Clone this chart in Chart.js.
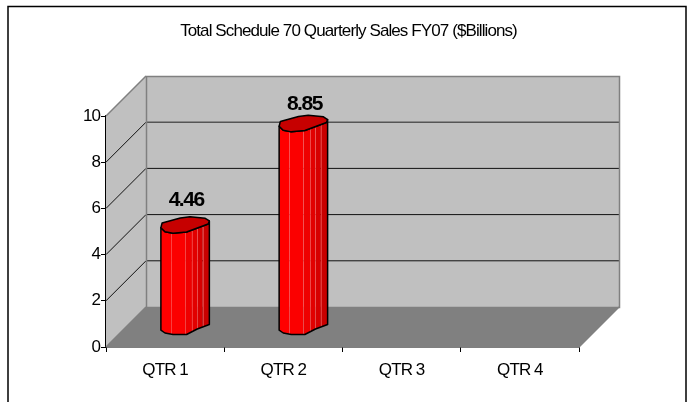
<!DOCTYPE html>
<html><head><meta charset="utf-8">
<style>html,body{margin:0;padding:0;background:#fff}canvas{display:block}</style>
<script src="https://cdn.jsdelivr.net/npm/chart.js@4/dist/chart.umd.js"></script>
</head><body>
<div style="width:689px;height:402px"><canvas id="c"></canvas></div>
<script>
const categories = ['QTR 1','QTR 2','QTR 3','QTR 4'];
const salesValues = [4.46, 8.85, null, null];
const yTicks = [0,2,4,6,8,10];
const chartTitle = 'Total Schedule 70 Quarterly Sales FY07 ($Billions)';
const labelLift = [24, 18];
const DEPTH = 40, FONT = "'Liberation Sans',Arial,sans-serif";

const frame = {id:'frame',
  afterLayout(ch){ ch.titleBlock.left=0; ch.titleBlock.right=697; },
  beforeDraw(ch){
    const c=ch.ctx; c.letterSpacing='-0.9px';
    c.save(); c.strokeStyle='#000'; c.lineWidth=1.5;
    c.beginPath(); c.moveTo(8,402); c.lineTo(8,6.5); c.lineTo(686,6.5); c.lineTo(686,402); c.stroke(); c.restore();
  }};

const walls = {id:'walls', beforeDatasetsDraw(ch){
  const c=ch.ctx, {x:xs,y:ys}=ch.scales, L=xs.left, R=xs.right, B=ys.bottom, T=ys.top, d=DEPTH;
  c.save();
  c.fillStyle='#c0c0c0';
  c.fillRect(L+d,T-d,R-L,B-T);
  c.beginPath(); c.moveTo(L,B); c.lineTo(L,T); c.lineTo(L+d,T-d); c.lineTo(L+d,B-d); c.closePath(); c.fill();
  c.fillStyle='#808080';
  c.beginPath(); c.moveTo(L,B); c.lineTo(L+d,B-d); c.lineTo(R+d,B-d); c.lineTo(R,B); c.closePath(); c.fill();
  yTicks.slice(1,-1).forEach(v=>{
    const y=ys.getPixelForValue(v);
    c.strokeStyle='#111'; c.lineWidth=1;
    c.beginPath(); c.moveTo(L,y); c.lineTo(L+d,y-d); c.stroke();
    c.strokeStyle=v===8?'#555':'#111'; c.lineWidth=v===8?1.5:1;
    c.beginPath(); c.moveTo(L+d,y-d); c.lineTo(R+d,y-d); c.stroke();
  });
  c.strokeStyle='#808080'; c.lineWidth=1.5;
  c.strokeRect(L+d+.5,T-d+.5,R-L,B-T);
  c.beginPath(); c.moveTo(L,T); c.lineTo(L+d,T-d); c.moveTo(L,B); c.lineTo(L+d,B-d); c.moveTo(R,B); c.lineTo(R+d,B-d); c.stroke();
  c.restore();
}};

const TOP=[[-1,3.7],[-.95,-1],[-.2,-6],[.2,-7.3],[.83,-5.7],[1,-3],[.95,0],[.06,8],[-.5,9.3],[-.83,7.7]];
const BOT=[[1,-2],[.5,2.5],[.06,8],[-.5,8],[-.83,6.5],[-1,3.7]];
const STRIPS=[['#ff0000',-1,-.58],['#fb0000',-.58,0],['#ee0000',0,.28],['#e20000',.28,.5],['#d60000',.5,.72],['#c80000',.72,1]];
const SEPS=[-.58,0,.28,.5,.72];

const bars3d = {id:'bars3d',
  afterDatasetDraw(ch,args){
    const c=ch.ctx, d=DEPTH/2;
    args.meta.data.forEach((el,i)=>{
      const v=salesValues[i]; if(v==null) return;
      const p=el.getProps(['x','y','base','width'],true), cx=p.x+d, yT=p.y-d, yB=p.base-d, hw=p.width/2;
      const path=()=>{ c.beginPath();
        c.moveTo(cx-hw,yT+TOP[0][1]);
        c.lineTo(cx-hw,yB+BOT[5][1]);
        BOT.slice().reverse().forEach(q=>c.lineTo(cx+q[0]*hw,yB+q[1]));
        c.lineTo(cx+hw,yT+TOP[5][1]);
        TOP.slice(5).forEach(q=>c.lineTo(cx+q[0]*hw,yT+q[1]));
        c.closePath(); };
      c.save(); path(); c.clip();
      STRIPS.forEach(s=>{c.fillStyle=s[0]; c.fillRect(cx+s[1]*hw,yT-10,(s[2]-s[1])*hw,yB-yT+25);});
      c.strokeStyle='rgba(255,130,130,.45)'; c.lineWidth=1;
      SEPS.forEach(s=>{const x=Math.round(cx+s*hw)+.5; c.beginPath(); c.moveTo(x,yT); c.lineTo(x,yB+10); c.stroke();});
      c.restore();
      c.lineJoin='round'; c.strokeStyle='#000'; c.lineWidth=1.5; path(); c.stroke();
      c.beginPath(); TOP.forEach((q,j)=> j?c.lineTo(cx+q[0]*hw,yT+q[1]):c.moveTo(cx+q[0]*hw,yT+q[1])); c.closePath();
      c.fillStyle='#c60000'; c.fill(); c.stroke();
      c.save(); c.letterSpacing='-1.5px'; c.fillStyle='#000'; c.font="bold 21px "+FONT; c.textAlign='center'; c.textBaseline='middle';
      c.fillText(v.toFixed(2),cx+1,yT-labelLift[i]); c.restore();
    });
  }};

new Chart(document.getElementById('c'),{
  type:'bar',
  data:{labels:categories,datasets:[{data:salesValues,backgroundColor:'rgba(255,0,0,0)',borderWidth:0,categoryPercentage:1,barPercentage:.41}]},
  plugins:[frame,walls,bars3d],
  options:{
    responsive:true,maintainAspectRatio:false,animation:false,
    layout:{padding:{left:0,right:110,top:0,bottom:0}},
    plugins:{legend:{display:false},tooltip:{enabled:false},
      title:{display:true,text:chartTitle,color:'#000',font:{family:FONT,size:17,weight:'normal'},padding:{top:21,bottom:74.6}}},
    scales:{
      x:{grid:{display:true,offset:true,drawOnChartArea:false,color:'#000',tickLength:5,tickColor:'#000'},
         border:{display:true,color:'#000',width:1.5},
         afterFit(s){s.height=55;},
         ticks:{color:'#000',padding:8,font:{family:FONT,size:17}}},
      y:{min:0,max:10,afterFit(s){s.width=106;},
         grid:{drawOnChartArea:false,color:'#000',tickLength:5},
         border:{display:true,color:'#000',width:1.5},
         ticks:{stepSize:2,color:'#000',padding:1,font:{family:FONT,size:17}}}
    }
  }
});
</script>
</body></html>
